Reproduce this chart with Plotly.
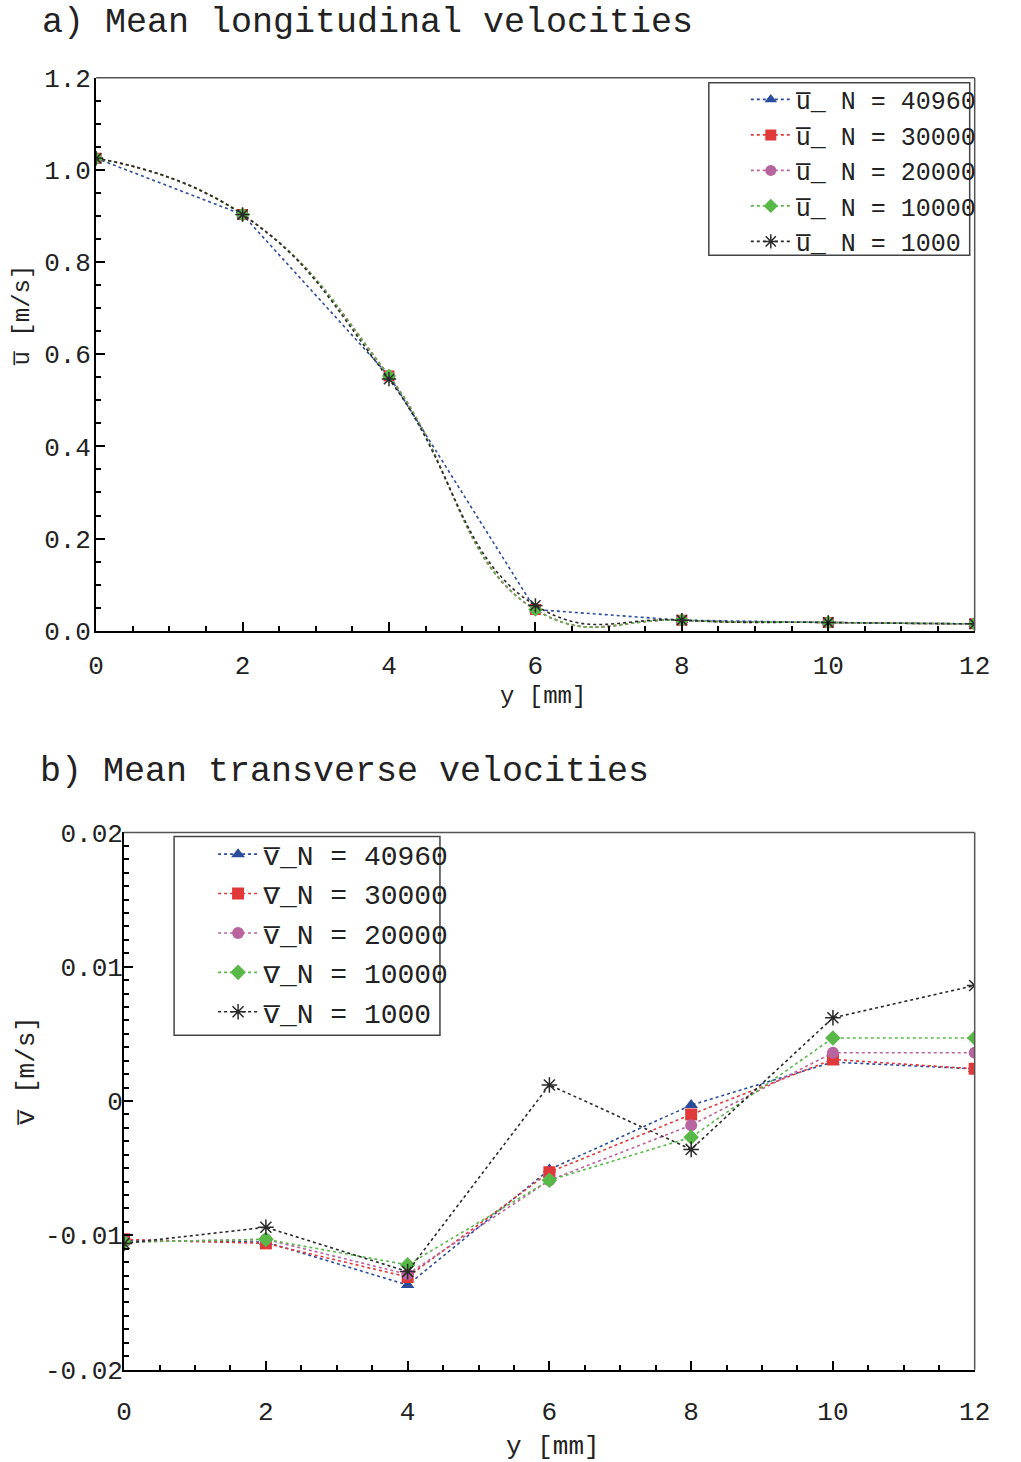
import plotly.graph_objects as go

# ---------------- data ----------------
y_mm = [0, 2, 4, 6, 8, 10, 12]

u_40960 = [1.025, 0.903, 0.553, 0.046, 0.023, 0.018, 0.015]
u_30000 = [1.025, 0.903, 0.553, 0.046, 0.023, 0.018, 0.015]
u_20000 = [1.025, 0.903, 0.553, 0.046, 0.023, 0.018, 0.015]
u_10000 = [1.025, 0.903, 0.553, 0.046, 0.023, 0.018, 0.015]
u_1000 = [1.025, 0.903, 0.546, 0.055, 0.023, 0.018, 0.015]

v_40960 = [-0.0104, -0.0105, -0.0137, -0.0051, -0.0003, 0.0029, 0.0024]
v_30000 = [-0.0103, -0.0106, -0.0131, -0.0053, -0.0010, 0.0031, 0.0024]
v_20000 = [-0.0105, -0.0103, -0.0129, -0.0059, -0.0018, 0.0036, 0.0036]
v_10000 = [-0.0105, -0.0103, -0.0122, -0.0059, -0.0027, 0.0047, 0.0047]
v_1000 = [-0.0106, -0.0094, -0.0127, 0.0012, -0.0036, 0.0062, 0.0086]

N_labels = ["40960", "30000", "20000", "10000", "1000"]
u_series = [u_40960, u_30000, u_20000, u_10000, u_1000]
v_series = [v_40960, v_30000, v_20000, v_10000, v_1000]

colors = ["#2B4C9B", "#E0393A", "#B8649F", "#58B848", "#2A2A2A"]
symbols = ["triangle-up", "square", "circle", "diamond", "asterisk-open"]
shapes_line = ["linear", "spline", "spline", "spline", "spline"]

FONT = "Liberation Mono"
W, H = 1021, 1462
# observed page placement: body margin offset and a slight overall scale in the photo
SX, SY, OX, OY = 0.977, 0.981, 8.0, 12.5

fig = go.Figure()

for i, (n, u) in enumerate(zip(N_labels, u_series)):
    mk = dict(symbol=symbols[i], size=11, color=colors[i])
    if symbols[i] == "asterisk-open":
        mk = dict(symbol=symbols[i], size=12, color=colors[i], line=dict(color=colors[i], width=1.5))
    fig.add_trace(go.Scatter(
        x=y_mm, y=u, mode="lines+markers", name="u\u0305_ N = " + n,
        line=dict(color=colors[i], dash="dot", width=1.6, shape=shapes_line[i], smoothing=1.3),
        marker=mk, xaxis="x", yaxis="y", legend="legend"))

for i, (n, v) in enumerate(zip(N_labels, v_series)):
    mk = dict(symbol=symbols[i], size=12, color=colors[i])
    if symbols[i] == "asterisk-open":
        mk = dict(symbol=symbols[i], size=13, color=colors[i], line=dict(color=colors[i], width=1.5))
    fig.add_trace(go.Scatter(
        x=y_mm, y=v, mode="lines+markers", name="v\u0305_N = " + n,
        line=dict(color=colors[i], dash="dot", width=1.6),
        marker=mk, xaxis="x2", yaxis="y2", legend="legend2"))


def px(x):
    return (x / SX - OX) / W


def py(y):
    return 1 - (y / SY - OY) / H


axis_common = dict(showline=True, linecolor="black", linewidth=2, mirror=False,
                   ticks="inside", ticklen=9, tickwidth=1.5, tickcolor="black",
                   showgrid=False, zeroline=False,
                   tickfont=dict(family=FONT, size=26, color="#222"))

fig.update_layout(
    width=W, height=H, margin=dict(l=0, r=0, t=0, b=0),
    plot_bgcolor="white", paper_bgcolor="white",
    xaxis=dict(domain=[px(96), px(975)], range=[0, 12], dtick=2, anchor="y",
               ticklabelstandoff=10,
               minor=dict(ticks="inside", dtick=0.5, ticklen=5, tickcolor="black"),
               **axis_common),
    yaxis=dict(domain=[py(631), py(77)], range=[0, 1.2], dtick=0.2, tickformat=".1f", anchor="x",
               ticklabelstandoff=-2,
               minor=dict(ticks="inside", dtick=0.05, ticklen=5, tickcolor="black"),
               **axis_common),
    xaxis2=dict(domain=[px(124), px(975)], range=[0, 12], dtick=2, anchor="y2",
                ticklabelstandoff=17,
                minor=dict(ticks="inside", dtick=0.5, ticklen=5, tickcolor="black"),
                **axis_common),
    yaxis2=dict(domain=[py(1371), py(833)], range=[-0.02, 0.02], anchor="x2",
                tickvals=[-0.02, -0.01, 0, 0.01, 0.02],
                ticktext=["-0.02", "-0.01", "0", "0.01", "0.02"],
                ticklabelstandoff=-6,
                minor=dict(ticks="inside", dtick=0.001, ticklen=5, tickcolor="black"),
                **axis_common),
    legend=dict(x=px(746), y=py(76), xanchor="left", yanchor="top",
                borderwidth=0, bgcolor="rgba(0,0,0,0)",
                font=dict(family=FONT, size=25, color="#222"), itemwidth=40),
    legend2=dict(x=px(213), y=py(830), xanchor="left", yanchor="top",
                 borderwidth=0, bgcolor="rgba(0,0,0,0)",
                 font=dict(family=FONT, size=28, color="#222"), itemwidth=40),
    showlegend=True,
)

# top/right frame lines (thin gray)
for xr, yr in [("x domain", "y domain"), ("x2 domain", "y2 domain")]:
    fig.add_shape(type="line", xref=xr, yref=yr, x0=0, x1=1, y0=1, y1=1,
                  line=dict(color="#555", width=1.5))
    fig.add_shape(type="line", xref=xr, yref=yr, x0=1, x1=1, y0=0, y1=1,
                  line=dict(color="#555", width=1.5))

# legend frames
for (x0, y0, x1, y1) in [(709, 82, 970, 255), (174, 837, 440, 1036)]:
    fig.add_shape(type="rect", xref="paper", yref="paper",
                  x0=px(x0), x1=px(x1), y0=py(y1), y1=py(y0),
                  fillcolor="white", layer="above", line=dict(color="#444", width=1.5))

ann = [
    dict(text="a) Mean longitudinal velocities", x=px(40), y=py(22), size=35, xanchor="left", angle=0),
    dict(text="b) Mean transverse velocities", x=px(38), y=py(772), size=35, xanchor="left", angle=0),
    dict(text="y [mm]", x=px(543), y=py(697), size=24, xanchor="center", angle=0),
    dict(text="y [mm]", x=px(553), y=py(1448), size=26, xanchor="center", angle=0),
    dict(text="u\u0305 [m/s]", x=px(22), y=py(315), size=24, xanchor="center", angle=-90),
    dict(text="v\u0305 [m/s]", x=px(27), y=py(1072), size=26, xanchor="center", angle=-90),
]
for a in ann:
    fig.add_annotation(text=a["text"], x=a["x"], y=a["y"], xref="paper", yref="paper",
                       xanchor=a["xanchor"], yanchor="middle", textangle=a["angle"],
                       showarrow=False, font=dict(family=FONT, size=a["size"], color="#222"))

fig.write_html("out.html")
